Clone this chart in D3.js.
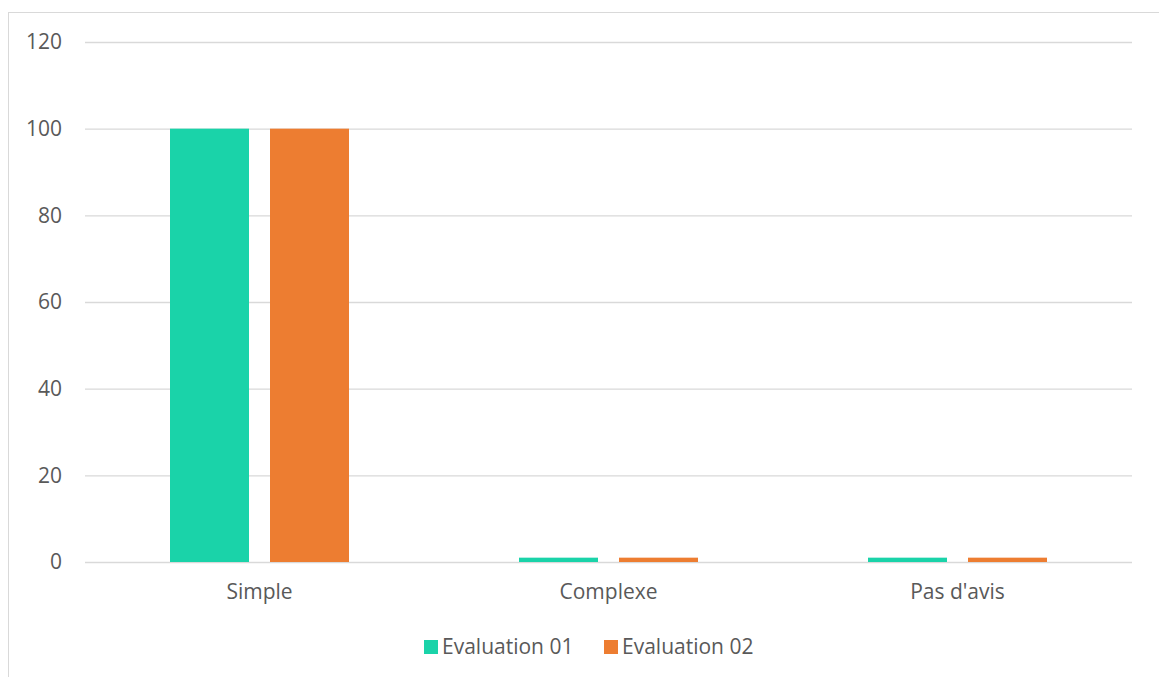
<!DOCTYPE html>
<html><head><meta charset="utf-8">
<script src="https://cdn.jsdelivr.net/npm/d3@7"></script>
<style>html,body{margin:0;padding:0;background:#fff;}svg{display:block;}</style>
</head><body>
<script>
const categories = ["Simple", "Complexe", "Pas d'avis"];
const seriesNames = ["Evaluation 01", "Evaluation 02"];
const evaluation01 = [100, 1, 1];
const evaluation02 = [100, 1, 1];
const yTicks = [0, 20, 40, 60, 80, 100, 120];
const colors = ["#1ad3a9", "#ed7d31"];

const W = 1159, H = 677;
const svg = d3.select("body").append("svg").attr("width", W).attr("height", H);
const font = "'Open Sans', 'Liberation Sans', sans-serif";
const fontSize = "21px";
const textColor = "#595959";

svg.append("rect").attr("x", 8.5).attr("y", 12.5).attr("width", 1200).attr("height", 700)
  .attr("fill", "none").attr("stroke", "#d9d9d9").attr("stroke-width", 1);

const mLeft = 85, mRight = 1132, mTop = 42, mBottom = 562;
const y = d3.scaleLinear().domain([0, 120]).range([mBottom, mTop]);
const x0 = d3.scaleBand().domain(categories).range([mLeft, mRight]).padding(0);
const x1 = d3.scaleBand().domain(seriesNames).range([0, x0.bandwidth()]).paddingInner(0.21).paddingOuter(0.85);

const yAxis = d3.axisLeft(y).tickValues(yTicks).tickSize(-(mRight - mLeft)).tickPadding(23);
const gy = svg.append("g").attr("transform", `translate(${mLeft},0)`).call(yAxis);
gy.select(".domain").remove();
gy.selectAll(".tick line").attr("stroke", "#d9d9d9").attr("stroke-width", 1.3);
gy.selectAll(".tick text").attr("fill", textColor).style("font-family", font).style("font-size", fontSize);

const data = categories.map((c, i) => ({cat: c, vals: [evaluation01[i], evaluation02[i]]}));
const groups = svg.append("g").selectAll("g").data(data).join("g")
  .attr("transform", d => `translate(${x0(d.cat)},0)`);
groups.selectAll("rect").data(d => d.vals.map((v, j) => ({s: seriesNames[j], v, j}))).join("rect")
  .attr("x", d => x1(d.s)).attr("width", x1.bandwidth())
  .attr("y", d => y(d.v)).attr("height", d => y(0) - y(d.v))
  .attr("fill", d => colors[d.j]);

const xAxis = d3.axisBottom(x0).tickSize(0).tickPadding(22);
const gx = svg.append("g").attr("transform", `translate(0,${mBottom})`).call(xAxis);
gx.select(".domain").remove();
gx.selectAll(".tick text").attr("fill", textColor).style("font-family", font).style("font-size", fontSize);

const legend = svg.append("g");
const legendX = [424, 604];
seriesNames.forEach((s, i) => {
  const g = legend.append("g").attr("transform", `translate(${legendX[i]},647)`);
  g.append("rect").attr("x", 0).attr("y", -7).attr("width", 14).attr("height", 14).attr("fill", colors[i]);
  g.append("text").attr("x", 18).attr("y", 0).attr("dy", "0.35em").attr("fill", textColor)
    .style("font-family", font).style("font-size", fontSize).text(s);
});
</script>
</body></html>
